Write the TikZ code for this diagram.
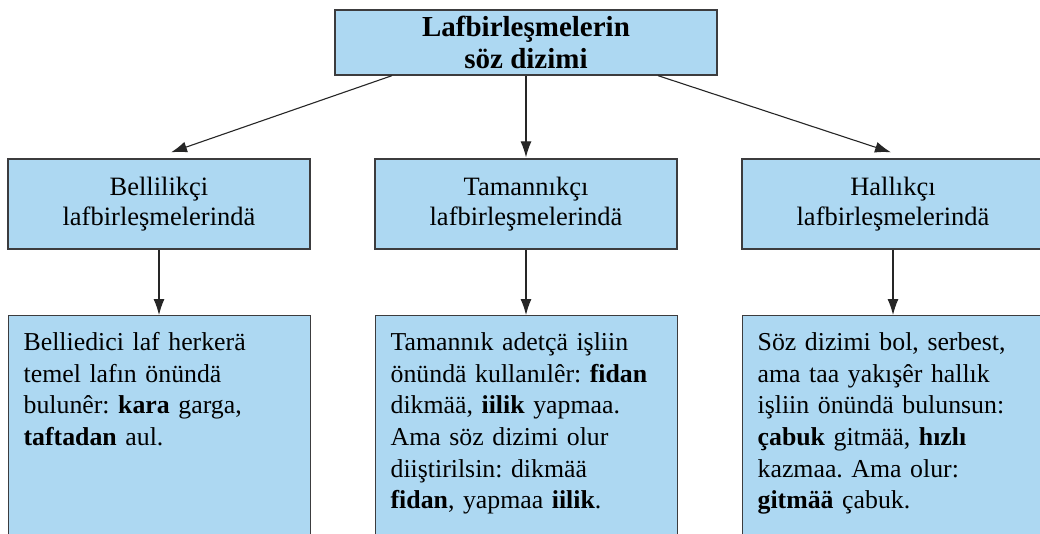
\documentclass[tikz,border=0pt]{standalone}
\usepackage{fontspec}
\setmainfont{Liberation Serif}[BoldFont={Liberation Serif Bold},ItalicFont={Liberation Serif Italic}]
\usetikzlibrary{arrows.meta,calc}
\definecolor{boxblue}{RGB}{173,216,242}
\definecolor{boxline}{RGB}{60,60,62}
\begin{document}
\frenchspacing
\begin{tikzpicture}[x=1pt,y=-1pt,
  box/.style={draw=boxline,fill=boxblue,line width=1.3pt,rectangle},
  headbox/.style={box,minimum width=382pt,minimum height=65pt,inner sep=1pt,align=center,
    font=\fontsize{29}{32}\selectfont\bfseries},
  midbox/.style={box,minimum width=302pt,minimum height=90pt,inner sep=1pt,align=center,
    font=\fontsize{26.5}{30}\selectfont},
  lowbox/.style={box,anchor=north west,text width=272pt,inner xsep=15pt,inner ysep=13pt,
    text height=22pt,text depth=240pt,align=left,
    font=\fontsize{25.8}{31.6}\selectfont},
  conn/.style={draw=black!85,line width=1.1pt,-{Latex[length=16pt,width=11pt]}}]
\clip (0,0) rectangle (1040,533);
\fill[white] (0,0) rectangle (1040,533);

\node[headbox] (top) at (526,42.5) {Lafbirleşmelerin\\söz dizimi};

\node[midbox] (l1) at (159,204) {Bellilikçi\\lafbirleşmelerindä};
\node[midbox] (m1) at (526,204) {Tamannıkçı\\lafbirleşmelerindä};
\node[midbox] (r1) at (893,204) {Hallıkçı\\lafbirleşmelerindä};

\node[lowbox] (l2) at (8,315) {Belliedici laf herkerä\\temel lafın önündä\\bulunêr: \textbf{kara} garga,\\\textbf{taftadan} aul.};
\node[lowbox] (m2) at (375,315) {Tamannık adetçä işliin\\önündä kullanılêr: \textbf{fidan}\\dikmää, \textbf{iilik} yapmaa.\\Ama söz dizimi olur\\diiştirilsin: dikmää\\\textbf{fidan}, yapmaa \textbf{iilik}.};
\node[lowbox] (r2) at (742,315) {Söz dizimi bol, serbest,\\ama taa yakışêr hallık\\işliin önündä bulunsun:\\\textbf{çabuk} gitmää, \textbf{hızlı}\\kazmaa. Ama olur:\\\textbf{gitmää} çabuk.};

\draw[conn] ($(top.south)+(-134,0)$) -- ($(l1.north)+(12,-6)$);
\draw[conn] (top.south) -- ($(m1.north)+(0,-1)$);
\draw[conn] ($(top.south)+(132,0)$) -- ($(r1.north)+(-2,-6)$);

\draw[conn] (l1.south) -- (l2.north -| l1.south);
\draw[conn] (m1.south) -- (m2.north -| m1.south);
\draw[conn] (r1.south) -- (r2.north -| r1.south);
\end{tikzpicture}
\end{document}
